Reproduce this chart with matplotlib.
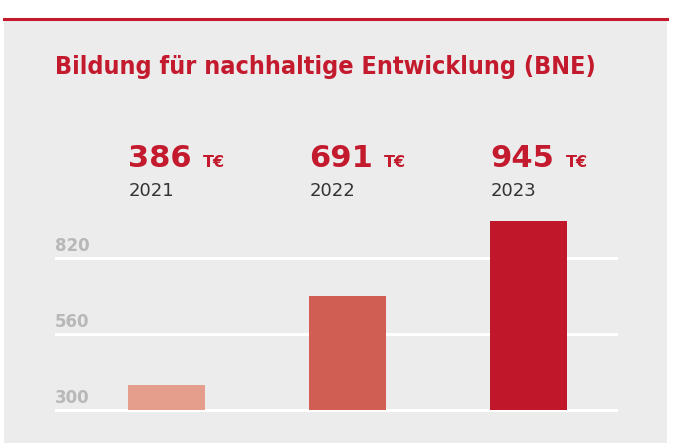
import matplotlib
matplotlib.use("Agg")
import matplotlib.pyplot as plt
import matplotlib.transforms as mtransforms
from matplotlib.patches import Rectangle
from matplotlib.lines import Line2D

# ---- data ----
years = ["2021", "2022", "2023"]
values = [386, 691, 945]
unit = "T€"
yticks = [300, 560, 820]
bar_colors = ["#E59E8C", "#D05E52", "#C0182A"]
title = "Bildung für nachhaltige Entwicklung (BNE)"

W, H = 681, 443
DPI = 100
fig = plt.figure(figsize=(W / DPI, H / DPI), dpi=DPI)
fig.patch.set_facecolor("white")

def fx(px):
    return px / W

def fy(py):
    return 1 - py / H

# panel background and top red line
fig.patches.append(Rectangle((fx(4), 0), fx(667) - fx(4), fy(19), transform=fig.transFigure,
                             facecolor="#ECECEC", edgecolor="none", zorder=-10))
fig.lines.append(Line2D([fx(4), fx(667)], [fy(18.5), fy(18.5)], transform=fig.transFigure,
                        color="#C41A2E", linewidth=2.2, zorder=-5))

red = "#C41A2E"
fig.text(fx(55), fy(74), title, color=red, fontsize=18, fontweight="bold",
         fontstretch="condensed", family="DejaVu Sans", ha="left", va="baseline")

# axes: y from 280 to 1000, 300 at px 410, 260 units = 76 px
ppu = 76 / 260.0
ymin, ymax = 280, 1000
ax_bottom = 410 + (300 - ymin) * ppu
ax_top = 410 - (ymax - 300) * ppu
ax = fig.add_axes([fx(55), fy(ax_bottom), fx(618) - fx(55), (ax_bottom - ax_top) / H])
ax.set_facecolor("none")
ax.set_ylim(ymin, ymax)
xpx = 181.0
ax.set_xlim(-(166 - 55) / xpx, (618 - 166) / xpx)
for s in ax.spines.values():
    s.set_visible(False)
ax.set_xticks([])
ax.set_yticks(yticks)
ax.tick_params(axis="y", length=0, labelleft=False)
ax.grid(axis="y", color="white", linewidth=2.2)
ax.set_axisbelow(True)

xs = list(range(len(values)))
bw = 77 / xpx
base = 300
ax.bar(xs, [v - base for v in values], bottom=base, width=bw, color=bar_colors, zorder=3)

# tick labels above gridlines
blend = mtransforms.blended_transform_factory(ax.transAxes, ax.transData)
for t in yticks:
    tr = mtransforms.offset_copy(blend, fig=fig, x=0, y=5, units="points")
    ax.text(0, t, str(t), transform=tr, color="#B8B8B8", fontsize=12, fontweight="bold",
            ha="left", va="baseline")

# big numbers and years above the bars
fig.canvas.draw()
renderer = fig.canvas.get_renderer()
for x, v, yr in zip(xs, values, years):
    left = x - bw / 2
    bl = mtransforms.blended_transform_factory(ax.transData, fig.transFigure)
    tr_num = mtransforms.offset_copy(bl, fig=fig, x=1, y=0, units="dots")
    tnum = ax.text(left, fy(167), str(v), transform=tr_num, color=red, fontsize=22,
                   fontweight="bold", ha="left", va="baseline", clip_on=False)
    ax.text(left, fy(196), yr, transform=tr_num, color="#333333", fontsize=13,
            ha="left", va="baseline", clip_on=False)
    ext = tnum.get_window_extent(renderer)
    fig.text(ext.x1 / W + fx(11), fy(167), unit, color=red, fontsize=11.5,
             fontweight="bold", ha="left", va="baseline")

fig.savefig("out.png", dpi=DPI, facecolor=fig.get_facecolor())
